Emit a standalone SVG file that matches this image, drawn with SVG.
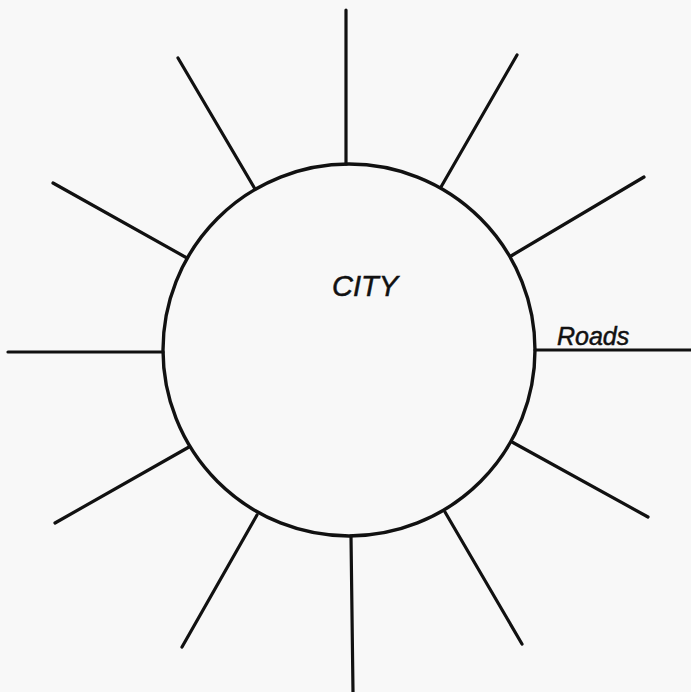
<svg xmlns="http://www.w3.org/2000/svg" width="691" height="692" viewBox="0 0 691 692">
<style>
.road{stroke:#111;stroke-width:3.2;stroke-linecap:round;fill:none}
.city{stroke:#111;stroke-width:3.4;fill:none}
.lbl{font-family:"Liberation Sans",Arial,sans-serif;font-style:italic;fill:#111;stroke:#111;stroke-width:0.5}
</style>
<rect width="691" height="692" fill="#f8f8f8"/>
<g id="city">
<circle class="city" cx="349" cy="350" r="186"/>
<text class="lbl" x="365" y="296" text-anchor="middle" font-size="29">CITY</text>
</g>
<g id="roads">
<line class="road" x1="346" y1="164" x2="346" y2="10"/>
<line class="road" x1="441" y1="187" x2="517" y2="55"/>
<line class="road" x1="511" y1="256" x2="644" y2="177"/>
<line class="road" x1="535" y1="350" x2="691" y2="350"/>
<line class="road" x1="512" y1="442" x2="648" y2="517"/>
<line class="road" x1="445" y1="512" x2="522" y2="644"/>
<line class="road" x1="351" y1="536" x2="353" y2="692"/>
<line class="road" x1="257" y1="515" x2="182" y2="647"/>
<line class="road" x1="189" y1="447" x2="55" y2="523"/>
<line class="road" x1="163" y1="352" x2="8" y2="352"/>
<line class="road" x1="187" y1="258" x2="53" y2="183"/>
<line class="road" x1="255" y1="189" x2="178" y2="58"/>
</g>
<g id="label-roads">
<text class="lbl" x="557" y="345" font-size="25">Roads</text>
</g>
</svg>
